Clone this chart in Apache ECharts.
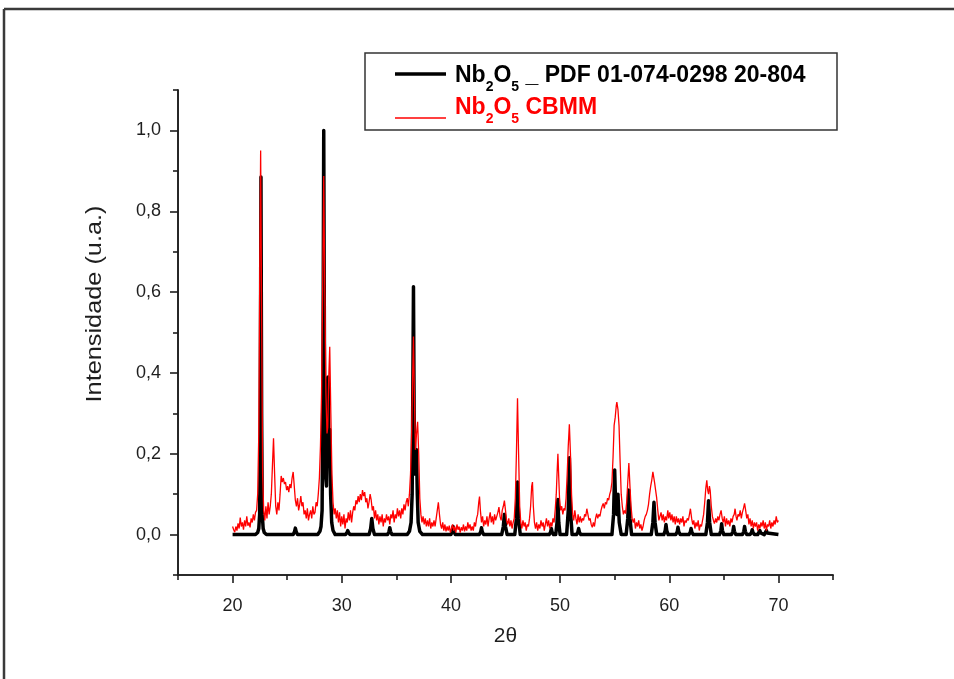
<!DOCTYPE html>
<html><head><meta charset="utf-8">
<script src="https://cdn.jsdelivr.net/npm/echarts@6/dist/echarts.min.js"></script>
<style>html,body{margin:0;padding:0;background:#fff}#c{width:954px;height:679px}</style>
</head><body><div id="c"></div>
<script>
// Reference pattern Nb2O5 PDF 01-074-0298 : [2theta, intensity]
const pdfPattern = [
[20,0],[22.1,0],[22.3,0.005],[22.4,0.015],[22.48,0.05],[22.54,0.3],[22.6,0.885],[22.66,0.3],[22.72,0.05],[22.8,0.015],[22.9,0.005],[23.1,0],
[25.55,0],[25.68,0.008],[25.75,0.016],[25.82,0.008],[25.95,0],
[27.8,0],[28.0,0.008],[28.1,0.02],[28.2,0.06],[28.28,0.4],[28.35,1.0],[28.42,0.4],[28.5,0.15],[28.6,0.12],[28.7,0.3],[28.75,0.39],[28.82,0.2],[28.9,0.26],[28.98,0.1],[29.08,0.03],[29.2,0.01],[29.4,0],
[30.35,0],[30.48,0.005],[30.55,0.01],[30.62,0.005],[30.75,0],
[32.5,0],[32.65,0.015],[32.75,0.04],[32.85,0.015],[33.0,0],
[34.2,0],[34.33,0.008],[34.4,0.017],[34.47,0.008],[34.6,0],
[36.0,0],[36.2,0.008],[36.35,0.03],[36.45,0.1],[36.52,0.4],[36.57,0.613],[36.63,0.3],[36.7,0.15],[36.78,0.18],[36.85,0.21],[36.92,0.1],[37.0,0.03],[37.15,0.008],[37.4,0],
[40.0,0],[40.13,0.008],[40.2,0.02],[40.27,0.008],[40.4,0],
[42.6,0],[42.73,0.007],[42.8,0.017],[42.87,0.007],[43.0,0],
[44.65,0],[44.8,0.02],[44.9,0.05],[45.0,0.02],[45.15,0],
[45.85,0],[46.0,0.04],[46.1,0.13],[46.2,0.04],[46.35,0],
[49.0,0],[49.13,0.006],[49.2,0.015],[49.27,0.006],[49.4,0],
[49.6,0],[49.72,0.03],[49.8,0.087],[49.88,0.03],[50.0,0],
[50.6,0],[50.75,0.06],[50.85,0.19],[50.95,0.06],[51.1,0],
[51.5,0],[51.63,0.006],[51.7,0.015],[51.77,0.006],[51.9,0],
[54.75,0],[54.9,0.05],[55.0,0.16],[55.1,0.06],[55.2,0.05],[55.3,0.10],[55.42,0.03],[55.6,0],
[56.05,0],[56.2,0.04],[56.3,0.11],[56.4,0.04],[56.55,0],
[58.35,0],[58.5,0.03],[58.6,0.08],[58.7,0.03],[58.85,0],
[59.5,0],[59.63,0.01],[59.7,0.025],[59.77,0.01],[59.9,0],
[60.6,0],[60.73,0.007],[60.8,0.018],[60.87,0.007],[61.0,0],
[61.8,0],[61.93,0.006],[62.0,0.015],[62.07,0.006],[62.2,0],
[63.35,0],[63.5,0.03],[63.6,0.084],[63.7,0.03],[63.85,0],
[64.6,0],[64.73,0.01],[64.8,0.027],[64.87,0.01],[65.0,0],
[65.7,0],[65.83,0.008],[65.9,0.02],[65.97,0.008],[66.1,0],
[66.7,0],[66.83,0.008],[66.9,0.02],[66.97,0.008],[67.1,0],
[67.4,0],[67.53,0.005],[67.6,0.012],[67.67,0.005],[67.8,0],
[68.1,0],[68.23,0.004],[68.3,0.01],[68.37,0.004],[68.5,0],
[68.7,0],[68.83,0.004],[68.9,0.01],[68.97,0.004],[69.1,0],
[70,0]
];
// Measured sample Nb2O5 CBMM : [2theta, intensity]
const cbmm = [
[20.0,0.02],[20.1,0.012],[20.2,0.006],[20.3,0.02],[20.4,0.01],[20.5,0.028],[20.6,0.015],[20.7,0.042],[20.8,0.02],[20.9,0.03],
[21.0,0.012],[21.1,0.035],[21.2,0.02],[21.3,0.045],[21.4,0.022],[21.5,0.03],[21.6,0.018],[21.7,0.04],[21.8,0.03],[21.9,0.05],
[22.0,0.035],[22.1,0.055],[22.2,0.06],[22.3,0.1],[22.4,0.25],[22.5,0.7],[22.57,0.95],[22.65,0.6],[22.75,0.15],[22.85,0.06],
[22.95,0.035],[23.05,0.07],[23.15,0.04],[23.25,0.08],[23.35,0.05],[23.45,0.07],[23.55,0.1],[23.65,0.17],[23.75,0.238],[23.85,0.15],
[23.95,0.07],[24.05,0.05],[24.15,0.08],[24.25,0.06],[24.35,0.1],[24.45,0.145],[24.55,0.13],[24.65,0.14],[24.75,0.125],[24.85,0.13],
[24.95,0.11],[25.05,0.12],[25.15,0.105],[25.25,0.125],[25.35,0.115],[25.45,0.14],[25.55,0.155],[25.65,0.12],[25.75,0.085],[25.85,0.07],
[25.95,0.09],[26.05,0.06],[26.15,0.075],[26.25,0.095],[26.35,0.07],[26.45,0.08],[26.55,0.05],[26.65,0.06],[26.75,0.04],[26.85,0.065],
[26.95,0.035],[27.05,0.05],[27.15,0.06],[27.25,0.04],[27.35,0.07],[27.45,0.05],[27.55,0.055],[27.65,0.08],[27.75,0.07],[27.85,0.1],
[27.95,0.14],[28.05,0.22],[28.15,0.35],[28.25,0.6],[28.35,0.887],[28.45,0.6],[28.55,0.35],[28.65,0.25],[28.72,0.266],[28.8,0.38],
[28.9,0.465],[29.0,0.3],[29.1,0.15],[29.2,0.08],[29.3,0.05],[29.4,0.065],[29.5,0.04],[29.6,0.06],[29.7,0.03],[29.8,0.055],
[29.9,0.02],[30.0,0.045],[30.1,0.025],[30.2,0.05],[30.3,0.015],[30.4,0.04],[30.5,0.03],[30.6,0.055],[30.7,0.035],[30.8,0.06],
[30.9,0.03],[31.0,0.055],[31.1,0.07],[31.2,0.06],[31.3,0.085],[31.4,0.075],[31.5,0.095],[31.6,0.08],[31.7,0.1],[31.8,0.085],
[31.9,0.11],[32.0,0.095],[32.1,0.105],[32.2,0.08],[32.3,0.09],[32.4,0.065],[32.5,0.08],[32.6,0.1],[32.7,0.085],[32.8,0.06],
[32.9,0.07],[33.0,0.04],[33.1,0.06],[33.2,0.035],[33.3,0.05],[33.4,0.025],[33.5,0.045],[33.6,0.03],[33.7,0.05],[33.8,0.02],
[33.9,0.04],[34.0,0.03],[34.1,0.05],[34.2,0.035],[34.3,0.045],[34.4,0.025],[34.5,0.05],[34.6,0.04],[34.7,0.06],[34.8,0.03],
[34.9,0.05],[35.0,0.04],[35.1,0.065],[35.2,0.045],[35.3,0.06],[35.4,0.04],[35.5,0.065],[35.6,0.05],[35.7,0.075],[35.8,0.06],
[35.9,0.08],[36.0,0.09],[36.1,0.07],[36.2,0.1],[36.3,0.15],[36.4,0.25],[36.5,0.4],[36.57,0.49],[36.65,0.35],[36.75,0.21],
[36.85,0.25],[36.95,0.279],[37.05,0.2],[37.15,0.09],[37.25,0.05],[37.35,0.03],[37.45,0.045],[37.55,0.025],[37.65,0.04],[37.75,0.02],
[37.85,0.035],[37.95,0.02],[38.05,0.04],[38.15,0.015],[38.25,0.03],[38.35,0.02],[38.45,0.035],[38.55,0.02],[38.65,0.04],[38.75,0.06],
[38.85,0.08],[38.95,0.05],[39.05,0.025],[39.15,0.015],[39.25,0.03],[39.35,0.01],[39.45,0.025],[39.55,0.008],[39.65,0.02],[39.75,0.01],
[39.85,0.022],[39.95,0.005],[40.05,0.015],[40.15,0.025],[40.25,0.01],[40.35,0.02],[40.45,0.005],[40.55,0.025],[40.65,0.012],[40.75,0.02],
[40.85,0.005],[40.95,0.018],[41.05,0.01],[41.15,0.025],[41.25,0.008],[41.35,0.02],[41.45,0.01],[41.55,0.03],[41.65,0.015],[41.75,0.025],
[41.85,0.01],[41.95,0.02],[42.05,0.01],[42.15,0.03],[42.25,0.02],[42.35,0.04],[42.45,0.05],[42.55,0.08],[42.62,0.094],[42.7,0.06],
[42.8,0.03],[42.9,0.045],[43.0,0.02],[43.1,0.035],[43.2,0.025],[43.3,0.045],[43.4,0.02],[43.5,0.04],[43.6,0.055],[43.7,0.03],
[43.8,0.045],[43.9,0.025],[44.0,0.05],[44.1,0.035],[44.2,0.045],[44.3,0.055],[44.4,0.068],[44.5,0.045],[44.6,0.035],[44.7,0.06],
[44.8,0.07],[44.9,0.084],[45.0,0.06],[45.1,0.035],[45.2,0.025],[45.3,0.04],[45.4,0.02],[45.5,0.035],[45.6,0.015],[45.7,0.03],
[45.8,0.04],[45.9,0.09],[46.0,0.2],[46.1,0.337],[46.2,0.2],[46.3,0.07],[46.4,0.03],[46.5,0.015],[46.6,0.035],[46.7,0.02],
[46.8,0.03],[46.9,0.01],[47.0,0.025],[47.1,0.02],[47.2,0.04],[47.3,0.07],[47.4,0.12],[47.47,0.13],[47.55,0.07],[47.65,0.03],
[47.75,0.015],[47.85,0.03],[47.95,0.01],[48.05,0.025],[48.15,0.015],[48.25,0.035],[48.35,0.02],[48.45,0.03],[48.55,0.01],[48.65,0.025],
[48.75,0.04],[48.85,0.02],[48.95,0.035],[49.05,0.015],[49.15,0.03],[49.25,0.02],[49.35,0.04],[49.45,0.03],[49.55,0.06],[49.65,0.1],
[49.72,0.15],[49.8,0.2],[49.88,0.14],[49.95,0.09],[50.05,0.06],[50.15,0.07],[50.25,0.05],[50.35,0.065],[50.45,0.06],[50.55,0.09],
[50.65,0.15],[50.75,0.22],[50.85,0.273],[50.95,0.2],[51.05,0.1],[51.15,0.05],[51.25,0.035],[51.35,0.06],[51.45,0.04],[51.55,0.025],
[51.65,0.05],[51.75,0.03],[51.85,0.045],[51.95,0.03],[52.05,0.04],[52.15,0.035],[52.25,0.05],[52.35,0.045],[52.45,0.064],[52.55,0.05],
[52.65,0.035],[52.75,0.04],[52.85,0.025],[52.95,0.018],[53.05,0.03],[53.15,0.02],[53.25,0.04],[53.35,0.052],[53.45,0.04],[53.55,0.05],
[53.65,0.045],[53.75,0.06],[53.85,0.07],[53.95,0.077],[54.05,0.065],[54.15,0.08],[54.25,0.075],[54.35,0.09],[54.45,0.085],[54.55,0.1],
[54.65,0.109],[54.75,0.13],[54.85,0.19],[54.95,0.27],[55.05,0.29],[55.15,0.32],[55.2,0.328],[55.3,0.31],[55.4,0.27],[55.5,0.18],
[55.6,0.1],[55.7,0.07],[55.8,0.05],[55.9,0.06],[56.0,0.052],[56.1,0.08],[56.2,0.13],[56.3,0.177],[56.4,0.12],[56.5,0.07],
[56.6,0.04],[56.7,0.03],[56.8,0.04],[56.9,0.015],[57.0,0.03],[57.1,0.02],[57.2,0.035],[57.3,0.015],[57.4,0.025],[57.5,0.01],
[57.6,0.02],[57.7,0.035],[57.8,0.045],[57.9,0.05],[58.0,0.06],[58.1,0.075],[58.2,0.1],[58.3,0.12],[58.4,0.135],[58.5,0.155],
[58.55,0.159],[58.65,0.13],[58.75,0.11],[58.85,0.09],[58.95,0.06],[59.05,0.035],[59.15,0.045],[59.25,0.055],[59.35,0.035],[59.45,0.05],
[59.55,0.03],[59.65,0.045],[59.75,0.035],[59.87,0.06],[59.95,0.04],[60.05,0.055],[60.15,0.035],[60.25,0.05],[60.35,0.03],[60.45,0.045],
[60.55,0.025],[60.65,0.045],[60.75,0.03],[60.85,0.04],[60.95,0.025],[61.05,0.04],[61.15,0.03],[61.25,0.045],[61.35,0.02],[61.45,0.035],
[61.55,0.03],[61.65,0.04],[61.75,0.035],[61.85,0.05],[61.94,0.064],[62.05,0.04],[62.15,0.025],[62.25,0.035],[62.35,0.015],[62.45,0.03],
[62.55,0.02],[62.65,0.035],[62.75,0.01],[62.85,0.025],[62.95,0.02],[63.05,0.035],[63.15,0.05],[63.25,0.08],[63.35,0.115],[63.44,0.134],
[63.52,0.11],[63.6,0.1],[63.68,0.12],[63.75,0.109],[63.85,0.07],[63.95,0.045],[64.05,0.035],[64.14,0.027],[64.25,0.04],[64.35,0.03],
[64.45,0.045],[64.55,0.035],[64.65,0.05],[64.75,0.06],[64.85,0.04],[64.95,0.03],[65.05,0.045],[65.15,0.02],[65.25,0.04],[65.35,0.025],
[65.45,0.035],[65.55,0.02],[65.65,0.04],[65.75,0.03],[65.85,0.045],[65.95,0.05],[66.03,0.064],[66.12,0.045],[66.2,0.035],[66.3,0.05],
[66.4,0.045],[66.5,0.06],[66.6,0.04],[66.7,0.055],[66.8,0.065],[66.9,0.077],[67.0,0.06],[67.1,0.04],[67.2,0.05],[67.3,0.025],
[67.4,0.04],[67.5,0.02],[67.6,0.035],[67.7,0.015],[67.8,0.03],[67.9,0.02],[68.0,0.03],[68.1,0.01],[68.2,0.025],[68.3,0.015],
[68.4,0.03],[68.5,0.02],[68.6,0.035],[68.7,0.015],[68.8,0.03],[68.9,0.01],[69.0,0.025],[69.1,0.02],[69.2,0.035],[69.3,0.015],
[69.4,0.03],[69.5,0.02],[69.6,0.035],[69.7,0.025],[69.8,0.045],[69.9,0.03],[70.0,0.035]
];
const xTicks = [20,30,40,50,60,70];
const xMinorTicks = [15,25,35,45,55,65,75];
const yTicks = [0,0.2,0.4,0.6,0.8,1.0];
const yMinorTicks = [-0.1,0.1,0.3,0.5,0.7,0.9,1.1];
const seriesNames = ['Nb2O5 _ PDF 01-074-0298 20-804','Nb2O5 CBMM'];
const xTitle = '2θ';
const yTitle = 'Intensidade (u.a.)';

const FONT = '"Liberation Sans", Arial, sans-serif';
const axisCol = '#1e1e1e';
const chart = echarts.init(document.getElementById('c'), null, {renderer:'canvas'});
const baseAxis = {
  type:'value', splitLine:{show:false},
  axisLine:{show:true, onZero:false, lineStyle:{color:axisCol, width:1.6}},
};
chart.setOption({
  animation:false,
  backgroundColor:'#ffffff',
  grid:{left:178, right:121, top:90, bottom:104, containLabel:false},
  xAxis:[
    Object.assign({}, baseAxis, {
      min:15, max:75, position:'bottom',
      name:xTitle, nameLocation:'middle', nameGap:51,
      nameTextStyle:{fontFamily:FONT, fontSize:21, color:axisCol},
      axisTick:{show:true, customValues:xTicks, length:8, lineStyle:{color:axisCol, width:1.6}},
      axisLabel:{show:true, customValues:xTicks, margin:22, fontFamily:FONT, fontSize:18, color:axisCol}
    }),
    Object.assign({}, baseAxis, {
      min:15, max:75, position:'bottom',
      axisTick:{show:true, customValues:xMinorTicks, length:5, lineStyle:{color:axisCol, width:1.6}},
      axisLabel:{show:false}
    })
  ],
  yAxis:[
    Object.assign({}, baseAxis, {
      min:-0.1, max:1.1, position:'left',
      axisTick:{show:true, customValues:yTicks, length:8, lineStyle:{color:axisCol, width:1.6}},
      axisLabel:{show:true, customValues:yTicks, margin:17, fontFamily:FONT, fontSize:18, color:axisCol,
        formatter:v=>v.toFixed(1).replace('.', ',')}
    }),
    Object.assign({}, baseAxis, {
      min:-0.1, max:1.1, position:'left',
      axisTick:{show:true, customValues:yMinorTicks, length:5, lineStyle:{color:axisCol, width:1.6}},
      axisLabel:{show:false}
    })
  ],
  series:[
    {name:seriesNames[0], type:'line', xAxisIndex:0, yAxisIndex:0, data:pdfPattern, showSymbol:false, symbol:'none',
     lineStyle:{color:'#000', width:3.5, join:'round'}, z:2},
    {name:seriesNames[1], type:'line', xAxisIndex:0, yAxisIndex:0, data:cbmm, showSymbol:false, symbol:'none',
     lineStyle:{color:'#ff0000', width:1.3}, z:3}
  ],
  graphic:[
    {type:'line', shape:{x1:4,y1:9,x2:954,y2:9}, style:{stroke:'#3a3a3a', lineWidth:2.5}, silent:true},
    {type:'line', shape:{x1:4,y1:9,x2:4,y2:679}, style:{stroke:'#3a3a3a', lineWidth:2.5}, silent:true},
    {type:'text', x:95, y:304, rotation:Math.PI/2, scaleX:1.15, style:{
      text:yTitle, fontFamily:FONT, fontSize:22, fill:axisCol, align:'center', verticalAlign:'middle'}},
    {type:'rect', shape:{x:365,y:53,width:472,height:77}, style:{fill:'#fff', stroke:'#333', lineWidth:1.5}, z:10},
    {type:'line', shape:{x1:395,y1:74,x2:446,y2:74}, style:{stroke:'#000', lineWidth:3.5}, z:11},
    {type:'line', shape:{x1:395,y1:118,x2:446,y2:118}, style:{stroke:'#ff0000', lineWidth:1.5}, z:11},
    {type:'text', x:455, y:58, z:11, style:{
      text:'{b|Nb}{s|2}{b|O}{s|5}{b| _ PDF 01-074-0298 20-804}',
      fill:'#000', verticalAlign:'top',
      rich:{
        b:{fontFamily:FONT, fontWeight:'bold', fontSize:23, lineHeight:36, fill:'#000'},
        s:{fontFamily:FONT, fontWeight:'bold', fontSize:14, lineHeight:14, verticalAlign:'bottom', fill:'#000'}
      }}},
    {type:'text', x:455, y:90, z:11, style:{
      text:'{b|Nb}{s|2}{b|O}{s|5}{b| CBMM}',
      fill:'#ff0000', verticalAlign:'top',
      rich:{
        b:{fontFamily:FONT, fontWeight:'bold', fontSize:23, lineHeight:36, fill:'#ff0000'},
        s:{fontFamily:FONT, fontWeight:'bold', fontSize:14, lineHeight:14, verticalAlign:'bottom', fill:'#ff0000'}
      }}}
  ]
});
</script></body></html>
